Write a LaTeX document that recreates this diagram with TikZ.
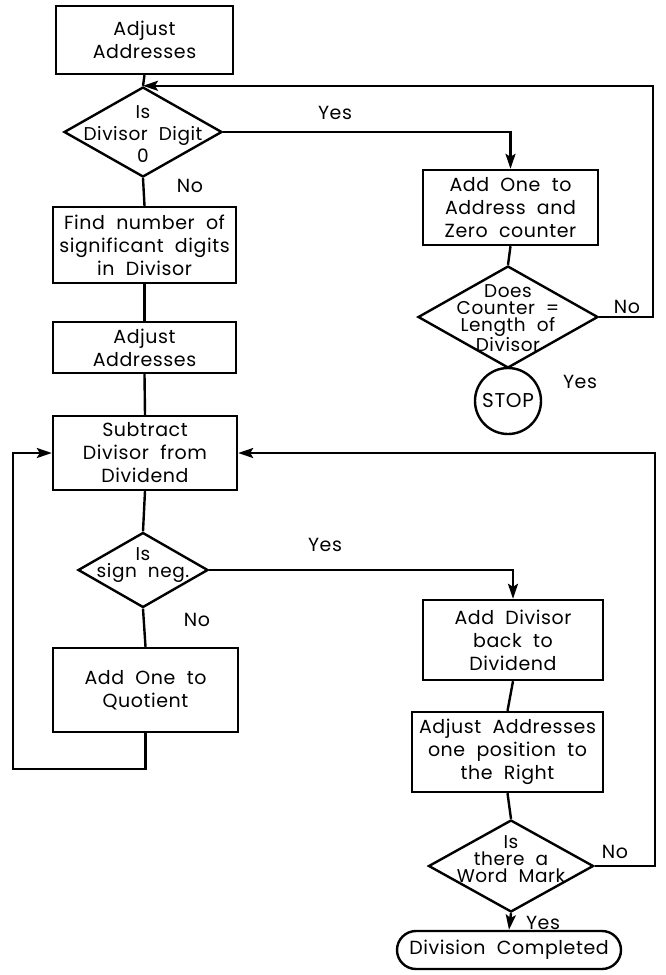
\documentclass[tikz,border=0pt]{standalone}
\usepackage{fontspec}
\setmainfont{Poppins}[WordSpace=2,LetterSpace=3]
\usetikzlibrary{shapes.geometric,arrows.meta}
\newcommand\boxfont{\fontsize{19}{23}\selectfont}
\newcommand\diafont{\fontsize{18.5}{17}\selectfont}
\begin{document}
\begin{tikzpicture}[x=1pt,y=-1pt,
  line/.style={line width=2.4pt},
  arr/.style={line width=2.4pt,-{Stealth[length=15pt,width=10pt,inset=3pt]}},
  box/.style={draw,line width=2.4pt,rectangle,inner sep=0pt,align=center,font=\boxfont},
  dia/.style={draw,line width=2.4pt,diamond,inner sep=0pt},
  diatext/.style={inner sep=0pt,align=center,font=\diafont},
  lbl/.style={inner sep=0pt,font=\boxfont}
]
\useasboundingbox (0,0) rectangle (665,975);

% left column
\node[box,minimum width=177pt,minimum height=68pt] (b1) at (144.5,40) {Adjust\\Addresses};
\node[dia,minimum width=158pt,minimum height=90pt] (d1) at (143,132) {};
\node[diatext,font=\fontsize{18.5}{22}\selectfont] (t1) at (143,134) {Is\\Divisor Digit\\0};
\node[box,minimum width=183pt,minimum height=76pt] (b3) at (144.5,245) {Find number of\\significant digits\\in Divisor};
\node[box,minimum width=183pt,minimum height=51pt] (b4) at (144.5,347.5) {Adjust\\Addresses};
\node[box,minimum width=184pt,minimum height=74pt] (b5) at (145,453) {Subtract\\Divisor from\\Dividend};
\node[dia,minimum width=130pt,minimum height=75pt] (d3) at (143,570) {};
\node[diatext] (t3) at (143,565) {Is\\sign neg.};
\node[box,minimum width=185pt,minimum height=84pt] (b6) at (145.5,690) {Add One to\\Quotient};

% right top
\node[box,minimum width=175pt,minimum height=75pt] (b2) at (510.5,207.5) {Add One to\\Address and\\Zero counter};
\node[dia,minimum width=180pt,minimum height=102pt] (d2) at (508,317) {};
\node[diatext] (t2) at (508,318) {Does\\Counter =\\Length of\\Divisor};
\node[draw,line width=2.4pt,circle,minimum size=66pt,inner sep=0pt,font=\fontsize{20}{23}\selectfont] (stop) at (508,401) {STOP};

% right bottom
\node[box,minimum width=180pt,minimum height=80pt] (b7) at (513,640) {Add Divisor\\back to\\Dividend};
\node[box,minimum width=191pt,minimum height=80pt] (b8) at (507.5,752) {Adjust Addresses\\one position to\\the Right};
\node[dia,minimum width=165pt,minimum height=92pt] (d4) at (511,866) {};
\node[diatext] (t4) at (511,859) {Is\\there a\\Word Mark};
\node[draw,line width=2.4pt,rounded corners=19pt,minimum width=224pt,minimum height=38pt,inner sep=0pt,font=\boxfont] (term) at (509,950) {Division Completed};

% loop coordinates
\coordinate (l1) at (13,769);
\coordinate (r1) at (655,866);
\coordinate (r2) at (653,317);

% connectors
\draw[line] (b1.south) -- (d1.north);
\draw[arr] (d1.east) -| (b2.north);
\draw[line] (d1.south) -- (b3.north);
\draw[line] (b3.south) -- (b4.north);
\draw[line] (b4.south) -- (b5.north);
\draw[line] (b5.south) -- (d3.north);
\draw[arr] (d3.east) -| (b7.north);
\draw[line] (d3.south) -- (b6.north);
\draw[arr] (b6.south) |- (l1) |- (b5.west);
\draw[line] (b2.south) -- (d2.north);
\draw[line] (d2.south) -- (stop.north);
\draw[arr] (d2.east) -- (r2) |- (d1.north);
\draw[line] (b7.south) -- (b8.north);
\draw[line] (b8.south) -- (d4.north);
\draw[arr] (d4.east) -- (r1) |- (b5.east);
\draw[arr] (d4.south) -- (term.north);

% labels
\node[lbl] (y1) at (335,113) {Yes};
\node[lbl] (n1) at (190,186) {No};
\node[lbl] (n2) at (627,307) {No};
\node[lbl] (y2) at (580,382) {Yes};
\node[lbl] (y3) at (325,545) {Yes};
\node[lbl] (n3) at (197,620) {No};
\node[lbl] (n4) at (615,852) {No};
\node[lbl] (y4) at (543,923) {Yes};
\end{tikzpicture}
\end{document}
